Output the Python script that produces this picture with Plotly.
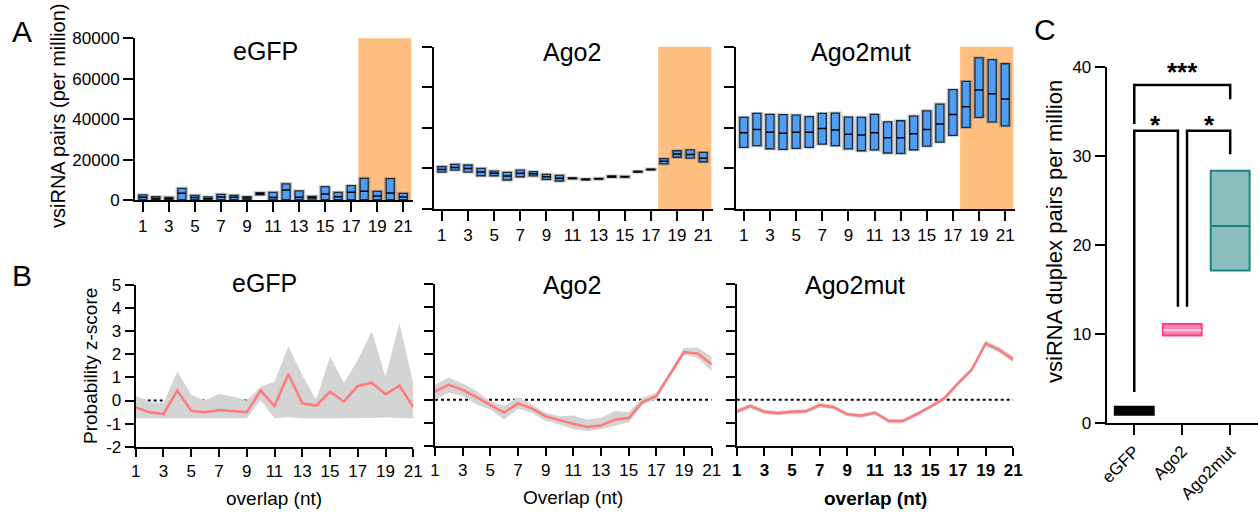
import plotly.graph_objects as go

W, H = 1258, 514
FONT = "Liberation Sans, Arial, sans-serif"

overlap = list(range(1, 22))
odd_ticks = list(range(1, 22, 2))

# ---------------- Panel A data (vsiRNA pairs per million): min / median / max ----------------
egfp_a_min = [150, 150, 150, 150, 150, 150, 150, 150, 150, 2600, 150, 150, 150, 500, 150, 150, 150, 150, 150, 150, 150]
egfp_a_med = [1300, 800, 700, 3300, 1200, 800, 1500, 1300, 1000, 3100, 1200, 5000, 1300, 1200, 3000, 1650, 3800, 4300, 2000, 3500, 1500]
egfp_a_max = [2500, 1650, 1300, 5800, 2300, 1500, 2800, 2300, 1650, 3600, 3800, 8000, 4500, 1800, 6600, 3800, 7100, 10700, 4300, 10600, 3300]

ago2_a_min = [18200, 19200, 18200, 16400, 16400, 14300, 15900, 16300, 14600, 13800, 14900, 14400, 14700, 15600, 15700, 18200, 19300, 22200, 25500, 25100, 23300]
ago2_a_med = [19500, 20500, 20000, 18200, 17600, 16300, 17600, 17400, 15900, 15100, 15100, 14600, 14900, 16000, 15900, 18400, 19500, 23500, 27100, 26900, 25000]
ago2_a_max = [20900, 22000, 21700, 20000, 18700, 18100, 19200, 18400, 17100, 16600, 15300, 14800, 15100, 16300, 16100, 18600, 19700, 24800, 28700, 29100, 27900]

mut_a_min = [30400, 31200, 29700, 29400, 29900, 30400, 32000, 31200, 29600, 28700, 29100, 27600, 27400, 29200, 31000, 33000, 36300, 40200, 45200, 42900, 41000]
mut_a_med = [37600, 39200, 37800, 37300, 37800, 37800, 39700, 38900, 36800, 36500, 37600, 35100, 35100, 37100, 39200, 41900, 46600, 50400, 58600, 56800, 54200]
mut_a_max = [45200, 47100, 46600, 46500, 46300, 45500, 47100, 47300, 45300, 45200, 46600, 42900, 43500, 45800, 48400, 51700, 58800, 62900, 74500, 73600, 71600]

a_yticks = [0, 20000, 40000, 60000, 80000]

# ---------------- Panel B data (probability z-score) ----------------
egfp_b_mean = [-0.30, -0.51, -0.58, 0.43, -0.45, -0.51, -0.41, -0.45, -0.51, 0.43, -0.24, 1.15, -0.12, -0.22, 0.38, -0.05, 0.63, 0.77, 0.27, 0.64, -0.28]
egfp_b_hi = [0.19, -0.05, -0.11, 1.25, 0.24, 0.00, 0.28, 0.17, 0.00, 0.60, 0.81, 2.35, 1.10, 0.02, 1.90, 0.76, 1.75, 3.00, 1.03, 3.35, 0.74]
egfp_b_lo = [-0.77, -0.77, -0.78, -0.77, -0.78, -0.78, -0.77, -0.77, -0.77, 0.02, -0.77, -0.72, -0.77, -0.78, -0.78, -0.78, -0.77, -0.76, -0.74, -0.77, -0.78]

ago2_b_mean = [0.36, 0.65, 0.43, 0.12, -0.23, -0.55, -0.16, -0.37, -0.72, -0.89, -1.04, -1.18, -1.11, -0.86, -0.79, -0.10, 0.16, 1.12, 2.07, 2.00, 1.53]
ago2_b_hi = [0.66, 0.95, 0.71, 0.38, -0.06, -0.27, 0.12, -0.20, -0.56, -0.71, -0.68, -0.85, -0.78, -0.49, -0.53, 0.09, 0.30, 1.24, 2.25, 2.25, 1.86]
ago2_b_lo = [0.01, 0.30, 0.16, -0.20, -0.42, -0.85, -0.39, -0.56, -0.92, -1.07, -1.28, -1.35, -1.28, -1.11, -0.97, -0.20, 0.01, 1.00, 1.96, 1.81, 1.24]

mut_b_mean = [-0.50, -0.27, -0.52, -0.58, -0.52, -0.50, -0.23, -0.32, -0.63, -0.69, -0.56, -0.92, -0.92, -0.63, -0.30, 0.06, 0.71, 1.31, 2.44, 2.15, 1.74]
mut_b_hi = [-0.40, -0.17, -0.43, -0.49, -0.43, -0.41, -0.13, -0.23, -0.54, -0.60, -0.47, -0.83, -0.83, -0.54, -0.21, 0.15, 0.80, 1.41, 2.56, 2.27, 1.87]
mut_b_lo = [-0.60, -0.37, -0.61, -0.67, -0.61, -0.59, -0.33, -0.41, -0.72, -0.78, -0.65, -1.01, -1.01, -0.72, -0.39, -0.03, 0.62, 1.21, 2.33, 2.04, 1.62]

b_yticks = [-2, -1, 0, 1, 2, 3, 4, 5]
b_ylabels = ["-2", "-1", "0", "1", "2", "3", "4", "5"]

# ---------------- Panel C data ----------------
groups = ["eGFP", "Ago2", "Ago2mut"]
c_min = [0.9, 9.8, 17.1]
c_med = [1.3, 10.4, 22.1]
c_max = [1.8, 11.1, 28.3]
c_fill = ["#000000", "#ff85b4", "#8bbfbd"]
c_edge = ["#000000", "#ff3b8a", "#1a8580"]
c_medc = ["#000000", "#ffd0e2", "#1a8580"]

titles = ["eGFP", "Ago2", "Ago2mut"]


def xdom(a, b):
    return [a / W, b / W]


def ydom(top, bottom):
    return [1 - bottom / H, 1 - top / H]


def px(x):
    return x / W


def py(y):
    return 1 - y / H


tickfont = dict(family=FONT, size=17, color="black")
common = dict(showline=True, linecolor="black", linewidth=2, ticks="outside", tickcolor="black",
              tickwidth=2, showgrid=False, zeroline=False, tickfont=tickfont, fixedrange=True,
              automargin=False)

fig = go.Figure()

# Panel A traces
a_sets = [(egfp_a_min, egfp_a_med, egfp_a_max), (ago2_a_min, ago2_a_med, ago2_a_max),
          (mut_a_min, mut_a_med, mut_a_max)]
for i, (mn, md, mx) in enumerate(a_sets):
    xa = "x" if i == 0 else f"x{i + 1}"
    ya = "y" if i == 0 else f"y{i + 1}"
    # soft grey halo behind each box
    fig.add_trace(go.Bar(x=overlap, y=[b - a for a, b in zip(mn, mx)], base=mn, width=0.72,
                         marker=dict(color="rgba(0,0,0,0)", line=dict(color="rgba(120,120,120,0.45)", width=3)),
                         xaxis=xa, yaxis=ya, showlegend=False, hoverinfo="skip"))
    fig.add_trace(go.Bar(x=overlap, y=[b - a for a, b in zip(mn, mx)], base=mn, width=0.62,
                         marker=dict(color="#4f9ef5", line=dict(color="#1f2b3a", width=1.3)),
                         xaxis=xa, yaxis=ya, showlegend=False))
    fig.add_trace(go.Scatter(x=overlap, y=md, mode="markers",
                             marker=dict(symbol="line-ew", size=5.8, line=dict(color="black", width=1.5)),
                             xaxis=xa, yaxis=ya, showlegend=False))

# Panel B traces
b_sets = [(egfp_b_mean, egfp_b_hi, egfp_b_lo), (ago2_b_mean, ago2_b_hi, ago2_b_lo),
          (mut_b_mean, mut_b_hi, mut_b_lo)]
for i, (mean, hi, lo) in enumerate(b_sets):
    xa = f"x{i + 4}"
    ya = f"y{i + 4}"
    fig.add_trace(go.Scatter(x=overlap, y=hi, mode="lines", line=dict(width=0, color="#d4d4d4"),
                             xaxis=xa, yaxis=ya, showlegend=False))
    fig.add_trace(go.Scatter(x=overlap, y=lo, mode="lines", line=dict(width=0, color="#d4d4d4"),
                             fill="tonexty", fillcolor="#d4d4d4", xaxis=xa, yaxis=ya, showlegend=False))
    fig.add_trace(go.Scatter(x=overlap, y=mean, mode="lines", line=dict(width=2.5, color="#ff7b7b"),
                             xaxis=xa, yaxis=ya, showlegend=False))

# Panel C traces
cx = list(range(len(groups)))
fig.add_trace(go.Bar(x=cx, y=[b - a for a, b in zip(c_min, c_max)], base=c_min, width=0.81,
                     marker=dict(color=c_fill, line=dict(color=c_edge, width=2)),
                     xaxis="x7", yaxis="y7", showlegend=False))
fig.add_trace(go.Scatter(x=cx, y=c_med, mode="markers",
                         marker=dict(symbol="line-ew", size=27, line=dict(color=c_medc, width=2)),
                         xaxis="x7", yaxis="y7", showlegend=False))

layout = dict(width=W, height=H, margin=dict(l=0, r=0, t=0, b=0, pad=0, autoexpand=False),
              paper_bgcolor="white", plot_bgcolor="white", showlegend=False, barmode="overlay",
              font=dict(family=FONT, color="black"))

a_dom = [(xdom(135, 413), ydom(38.3, 200)), (xdom(434, 713), ydom(46.7, 209)),
         (xdom(736, 1015), ydom(46.7, 209))]
for i, (xd, yd) in enumerate(a_dom):
    xk = "xaxis" if i == 0 else f"xaxis{i + 1}"
    yk = "yaxis" if i == 0 else f"yaxis{i + 1}"
    xa = "x" if i == 0 else f"x{i + 1}"
    ya = "y" if i == 0 else f"y{i + 1}"
    layout[xk] = dict(common, domain=xd, anchor=ya, range=[0.4, 21.75], tickvals=odd_ticks, ticklen=10)
    layout[yk] = dict(common, domain=yd, anchor=xa, range=[0, 80000], tickvals=a_yticks, tickformat="d",
                      ticklen=10, showticklabels=(i == 0))

b_dom = [(xdom(135.7, 413.3), ydom(285, 446.7)), (xdom(435, 711.7), ydom(284.3, 446)),
         (xdom(736.7, 1013.3), ydom(284.3, 446))]
for i, (xd, yd) in enumerate(b_dom):
    n = i + 4
    ttext = [str(v) for v in odd_ticks]
    if i == 2:
        ttext = [f"<b>{v}</b>" for v in odd_ticks]
    layout[f"xaxis{n}"] = dict(common, domain=xd, anchor=f"y{n}", range=[1, 21], tickvals=odd_ticks,
                               ticktext=ttext, ticklen=8)
    layout[f"yaxis{n}"] = dict(common, domain=yd, anchor=f"x{n}", range=[-2, 5], tickvals=b_yticks,
                               ticktext=b_ylabels, ticklen=9, showticklabels=(i == 0))

layout["xaxis7"] = dict(common, domain=xdom(1106.7, 1258), anchor="y7", range=[-0.575, 2.58],
                        tickvals=cx, ticktext=groups, tickangle=-45, ticklen=10)
layout["yaxis7"] = dict(common, domain=ydom(66.7, 422.7), anchor="x7", range=[0, 40],
                        tickvals=[0, 10, 20, 30, 40], ticklen=10)

shapes = []
for i in range(3):
    xa = "x" if i == 0 else f"x{i + 1}"
    ya = "y" if i == 0 else f"y{i + 1}"
    shapes.append(dict(type="rect", xref=xa, yref=f"{ya} domain", x0=17.55, x1=21.62, y0=0, y1=1,
                       fillcolor="#FFBF80", line=dict(width=0), layer="below"))
for i in range(3):
    n = i + 4
    shapes.append(dict(type="line", xref=f"x{n}", yref=f"y{n}", x0=1, x1=21, y0=0, y1=0,
                       line=dict(color="black", width=2, dash="dot"), layer="below"))

# significance brackets (panel C)
brackets = [
    (0, 2, 37.93, 33.56, 36.34),
    (0, 0.91, 32.8, 3.45, 13.03),
    (1.10, 2, 32.8, 13.03, 30.16),
]
for x0, x1, ytop, yl, yr in brackets:
    shapes.append(dict(type="path", xref="x7", yref="y7",
                       path=f"M {x0},{yl} L {x0},{ytop} L {x1},{ytop} L {x1},{yr}",
                       line=dict(color="black", width=2.5)))
layout["shapes"] = shapes

ann = []


def text(x, y, s, size, angle=0, bold=False):
    ann.append(dict(x=px(x), y=py(y), xref="paper", yref="paper", text=(f"<b>{s}</b>" if bold else s),
                    showarrow=False, textangle=angle, xanchor="center", yanchor="middle",
                    font=dict(family=FONT, size=size, color="black")))


text(22, 31, "A", 30)
text(22, 275, "B", 30)
text(1045, 29, "C", 30)

for s, (x, y) in zip(titles, [(265.8, 51), (571.7, 51.7), (860.5, 51.7)]):
    text(x, y, s, 25)
for s, (x, y) in zip(titles, [(264, 283), (571.7, 285), (854.7, 285)]):
    text(x, y, s, 25)

text(58, 116, "vsiRNA pairs (per million)", 20, angle=-90)
text(90, 366, "Probability z-score", 19, angle=-90)
text(274, 498, "overlap (nt)", 19)
text(573, 497, "Overlap (nt)", 19)
text(875.5, 498, "overlap (nt)", 19, bold=True)
text(1055, 232, "vsiRNA duplex pairs per million", 22, angle=-90)

# stars
star_x = [1182, 1155.7, 1209.3]
star_y = [72, 125, 125]
star_s = ["***", "*", "*"]
for x, y, s in zip(star_x, star_y, star_s):
    text(x, y, s, 26, bold=True)

layout["annotations"] = ann
fig.update_layout(**layout)

fig.write_html("out.html")
